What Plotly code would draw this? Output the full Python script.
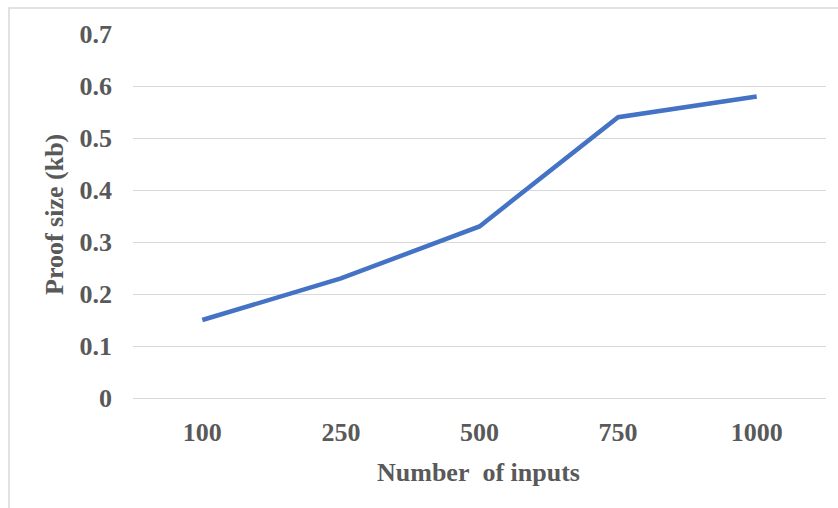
import plotly.graph_objects as go

# Proof size measured for each number of inputs
inputs = ["100", "250", "500", "750", "1000"]
proof_size_kb = [0.15, 0.23, 0.33, 0.54, 0.58]
y_ticks = [0, 0.1, 0.2, 0.3, 0.4, 0.5, 0.6, 0.7]
y_tick_text = ["0", "0.1", "0.2", "0.3", "0.4", "0.5", "0.6", "0.7"]

W, H = 838, 508
L, R, T, B = 133, 12, 34, 110
pw, ph = W - L - R, H - T - B

def px_x(px):
    return (px - L) / pw

def px_y(py):
    return (H - B - py) / ph

font_family = "Liberation Serif, Times New Roman, serif"
grey = "#595959"

fig = go.Figure()
fig.add_trace(go.Scatter(
    x=inputs,
    y=proof_size_kb,
    mode="lines",
    line=dict(color="#4472C4", width=4.5),
    showlegend=False,
    hoverinfo="x+y",
))

fig.update_layout(
    width=W,
    height=H,
    margin=dict(l=L, r=R, t=T, b=B),
    paper_bgcolor="white",
    plot_bgcolor="white",
    font=dict(family=font_family, size=26, color=grey),
    xaxis=dict(
        type="category",
        range=[-0.5, 4.5],
        showgrid=False,
        showline=False,
        zeroline=False,
        ticks="",
        tickfont=dict(family=font_family, size=26, color=grey, weight="bold"),
        ticklabelstandoff=16,
    ),
    yaxis=dict(
        range=[0, 0.7],
        tickvals=y_ticks,
        ticktext=y_tick_text,
        showgrid=True,
        gridcolor="#D9D9D9",
        gridwidth=1,
        zeroline=True,
        zerolinecolor="#D9D9D9",
        zerolinewidth=1,
        showline=False,
        ticks="",
        tickfont=dict(family=font_family, size=26, color=grey, weight="bold"),
        ticklabelstandoff=20,
    ),
    annotations=[
        dict(
            text="Number&nbsp; of inputs",
            xref="paper", yref="paper",
            x=px_x(478), y=px_y(472),
            xanchor="center", yanchor="middle",
            showarrow=False,
            font=dict(family=font_family, size=26, color=grey, weight="bold"),
        ),
        dict(
            text="Proof size (kb)",
            xref="paper", yref="paper",
            x=px_x(54), y=px_y(215),
            xanchor="center", yanchor="middle",
            textangle=-90,
            showarrow=False,
            font=dict(family=font_family, size=26, color=grey, weight="bold"),
        ),
    ],
    shapes=[
        dict(
            type="rect",
            xref="paper", yref="paper",
            x0=px_x(9), x1=px_x(845),
            y0=px_y(515), y1=px_y(8),
            line=dict(color="#D9D9D9", width=1.5),
            fillcolor="rgba(0,0,0,0)",
            layer="below",
        )
    ],
)

fig.write_html("out.html")
